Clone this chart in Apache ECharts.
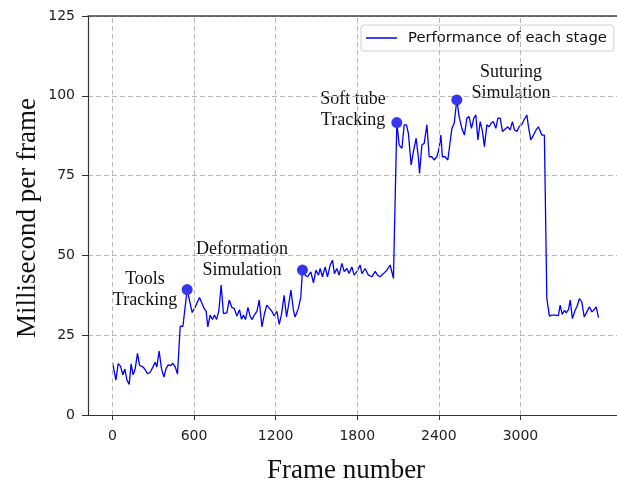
<!DOCTYPE html>
<html>
<head>
<meta charset="utf-8">
<script src="https://cdn.jsdelivr.net/npm/echarts@6/dist/echarts.min.js"></script>
<style>html,body{margin:0;padding:0;background:#fff}#c{width:617px;height:484px}</style>
</head>
<body>
<div id="c"></div>
<script>
const frames = [0,25,42,59,76,91,106,123,137,152,167,184,199,213,228,260,277,297,314,326,343,360,378,395,410,429,444,461,478,498,518,549,
566,586,608,640,674,689,701,718,735,750,765,782,799,816,841,858,878,895,915,934,949,963,978,996,1012,1027,1044,1062,1079,1099,1118,1135,1154,1172,1189,1209,1226,1243,1262,1280,1297,1312,1331,1343,1367,1385,1397,
1417,1434,1459,1478,1496,1515,1527,1544,1564,1581,1601,1618,1632,1650,1667,1687,1704,1724,1740,1760,1777,1797,1821,1834,1858,1882,1907,1932,1949,1968,1993,2018,2042,2066,
2091,2108,2128,2145,2162,2176,2196,2213,2233,2250,2258,2275,2292,2312,2329,2349,2365,2385,2402,2415,2426,2446,2466,2483,2496,2513,2532,
2549,2569,2588,2606,2622,2640,2657,2672,2687,2704,2721,2735,2753,2770,2784,2801,2819,2834,2851,2868,2888,2907,2924,2941,2956,2974,2990,3010,3027,3047,3059,3076,3096,3115,3132,3157,3176,
3194,3213,3231,3255,3279,3292,3307,3324,3336,3353,3366,3382,3402,3415,3434,3451,3469,3488,3507,3525,3542,3557,3574];
const msPerFrame = [16.6,10.9,16.1,15.3,12.6,14.4,11,9.6,16,12.6,14.5,19.3,15.6,16,14.9,12.9,13.4,15,16.5,15,20,14.6,11.9,14.6,15.7,15.5,16.2,15.1,12.8,27.8,27.8,39.3,
36,32.1,33.8,36.8,33.4,32.5,27.6,31.3,29.9,31.3,29.9,32.6,40.7,31.8,32,36,33.7,33.4,31,33,30,31.3,29.9,33.7,31,29.9,31.4,32.5,36,27.6,31.8,34.4,33.4,32.5,31,32.5,28.4,31.5,37.5,30.7,35,39.1,32.8,30.7,33.4,37,45.4,
43.8,43.3,44.8,41.4,45.4,43.8,45.9,43.3,46.4,43.3,47,48.5,44.3,45.9,43.8,47.5,44.9,45.9,44.3,46.4,43.8,44.9,47,44.3,45.9,43.8,43.3,45,43.8,43.3,44.3,45.4,47,42.8,
91.6,84.6,83.5,90.9,90.9,88.2,78.3,82.5,86.7,80.4,75.7,84.6,85.1,90.9,80.9,80.9,79.9,80.9,83.5,87.7,80.9,80.9,79.9,85.6,89.8,91.4,98.7,
93.5,89.8,87.7,93,93.5,89.8,93,94,86.2,91.9,88.8,84.1,90.9,90.3,91.4,91.9,89.8,93,93,88.8,89.6,90.3,89.3,91.9,89.3,88.8,90.3,91,92.5,94,90.3,86.2,87.7,89.3,90.3,87.7,87.7,
36.5,31,31.3,31.3,31.1,34.4,31.5,32.8,32,33,36,30.2,32.8,33.9,36.5,35.4,30.7,32.3,33.9,32.3,33,33.9,30.5];
const stageFrames = [549, 1397, 2091, 2532];
const stageValues = [39.3, 45.4, 91.6, 98.7];
const stageNames = [['Tools','Tracking'],['Deformation','Simulation'],['Soft tube','Tracking'],['Suturing','Simulation']];
const xTicks = [0, 600, 1200, 1800, 2400, 3000];
const seriesName = 'Performance of each stage';

const lineData = frames.map((f, i) => [f, msPerFrame[i]]);
const dotData = stageFrames.map((f, i) => [f, stageValues[i]]);
const labelPos = [[145,279,300],[242,249,270],[353,99,120],[511,72,93]];
const serif = '"Liberation Serif","Times New Roman",serif';
const graphic = [];
stageNames.forEach((lines, i) => {
  lines.forEach((t, j) => {
    graphic.push({type:'text', x: labelPos[i][0], y: labelPos[i][1+j], silent:true,
      style:{text:t, fontFamily:serif, fontSize:18, fill:'#111', align:'center', verticalAlign:'middle'}});
  });
});
graphic.push({type:'text', x:346, y:471, style:{text:'Frame number', fontFamily:serif, fontSize:27, fill:'#111', align:'center', verticalAlign:'middle'}});
graphic.push({type:'text', x:28, y:218, rotation:Math.PI/2, style:{text:'Millisecond per frame', fontFamily:serif, fontSize:27, fill:'#111', align:'center', verticalAlign:'middle'}});

const chart = echarts.init(document.getElementById('c'), null, {renderer:'canvas'});
const sans = '"DejaVu Sans", sans-serif';
chart.setOption({
  animation: false,
  backgroundColor: '#fff',
  grid: {left: 88, top: 16, right: 0, bottom: 69, containLabel: false},
  legend: {
    data: [{name: seriesName, icon: 'rect'}], left: 361, top: 25, padding: [5, 7, 5, 5],
    itemWidth: 31, itemHeight: 1.5, borderColor: '#d0d0d0', borderWidth: 1, borderRadius: 3,
    backgroundColor: 'rgba(255,255,255,0.85)',
    textStyle: {fontFamily: sans, fontSize: 14.8, color: '#111', padding: [0,0,0,6], lineHeight: 16}
  },
  xAxis: [{
    type: 'value', min: -180, max: 3710,
    axisLine: {show: true, onZero: false, lineStyle: {color: '#333', width: 1.2}},
    axisTick: {show: true, length: 5, customValues: xTicks, lineStyle: {color: '#333'}},
    axisLabel: {customValues: xTicks, formatter: v => String(v), fontFamily: sans, fontSize: 14, color: '#222', margin: 14},
    splitLine: {show: false}
  }, {
    type: 'value', position: 'top', min: -180, max: 3710,
    axisLine: {show: true, onZero: false, lineStyle: {color: '#444', width: 1.5}},
    axisTick: {show: false}, axisLabel: {show: false}, splitLine: {show: false}
  }],
  yAxis: {
    type: 'value', min: 0, max: 125, interval: 25,
    axisLine: {show: true, onZero: false, lineStyle: {color: '#333', width: 1.2}},
    axisTick: {show: true, length: 6, lineStyle: {color: '#333'}},
    axisLabel: {fontFamily: sans, fontSize: 14, color: '#222', margin: 13},
    splitLine: {show: true, lineStyle: {color: '#b8b8b8', type: [5, 3], width: 1}}
  },
  graphic: graphic,
  series: [{
    type: 'line', name: 'grid', data: [], z: 1, silent: true,
    markLine: {silent: true, symbol: 'none', label: {show: false},
      lineStyle: {color: '#b8b8b8', type: [5, 3], width: 1},
      data: xTicks.map(v => ({xAxis: v}))}
  }, {
    type: 'line', name: seriesName, data: lineData, symbol: 'none', z: 3,
    lineStyle: {color: '#0000ff', width: 1.3}, itemStyle: {color: '#0000ff'}
  }, {
    type: 'scatter', name: 'stages', data: dotData, symbolSize: 11, z: 4,
    itemStyle: {color: '#3636ee', opacity: 1}
  }]
});
</script>
</body>
</html>
